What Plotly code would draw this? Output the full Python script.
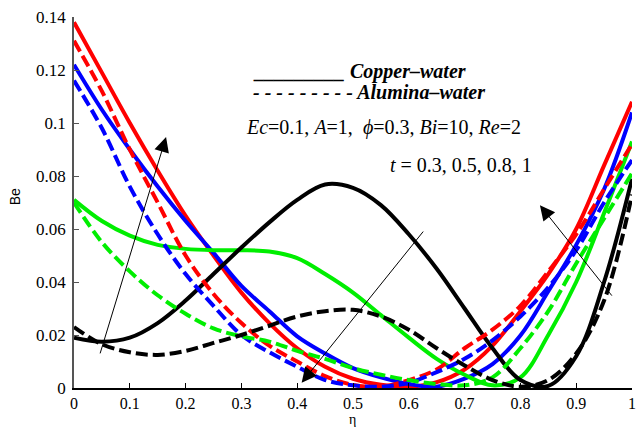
import plotly.graph_objects as go

# eta grid (0 to 1 step 0.05)
eta = [0.0, 0.05, 0.10, 0.15, 0.20, 0.25, 0.30, 0.35, 0.40, 0.45, 0.50,
       0.55, 0.60, 0.65, 0.70, 0.75, 0.80, 0.85, 0.90, 0.95, 1.0]

# Copper-water (solid)
red_cu = [0.138, 0.119, 0.100, 0.082, 0.065, 0.050, 0.036, 0.0245, 0.0150, 0.0080, 0.0035,
          0.0012, 0.0005, 0.0022, 0.0070, 0.0160, 0.0290, 0.0430, 0.0600, 0.0840, 0.1080]
blue_cu = [0.122, 0.105, 0.090, 0.076, 0.063, 0.051, 0.0385, 0.029, 0.0195, 0.013, 0.0075,
           0.0040, 0.0015, 0.0005, 0.0035, 0.0090, 0.0198, 0.0365, 0.0540, 0.0750, 0.1040]
green_cu = [0.071, 0.063, 0.0575, 0.054, 0.0525, 0.052, 0.052, 0.0515, 0.049, 0.043, 0.036,
            0.0275, 0.019, 0.011, 0.005, 0.001, 0.004, 0.020, 0.040, 0.066, 0.093]
black_cu = [0.019, 0.0175, 0.019, 0.0245, 0.033, 0.043, 0.053, 0.0625, 0.071, 0.0768, 0.0755,
            0.069, 0.058, 0.045, 0.030, 0.015, 0.003, 0.0008, 0.012, 0.040, 0.079]

# Alumina-water (dashed)
red_al = [0.131, 0.112, 0.090, 0.070, 0.050, 0.0355, 0.0245, 0.016, 0.010, 0.0045, 0.0012,
          0.0005, 0.0030, 0.0070, 0.0150, 0.0220, 0.0310, 0.0440, 0.0580, 0.0750, 0.0920]
blue_al = [0.116, 0.098, 0.076, 0.058, 0.043, 0.031, 0.020, 0.0135, 0.008, 0.003, 0.001,
           0.0005, 0.0020, 0.0060, 0.0110, 0.0180, 0.0270, 0.0380, 0.0520, 0.0700, 0.0860]
green_al = [0.070, 0.055, 0.044, 0.035, 0.028, 0.0225, 0.0195, 0.0175, 0.014, 0.011, 0.0075,
            0.005, 0.003, 0.0015, 0.001, 0.004, 0.015, 0.029, 0.047, 0.064, 0.081]
black_al = [0.023, 0.0165, 0.0135, 0.0125, 0.014, 0.017, 0.020, 0.0235, 0.027, 0.029, 0.0295,
            0.027, 0.022, 0.015, 0.0085, 0.003, 0.0005, 0.003, 0.013, 0.033, 0.073]

x_ticks = [0, 0.1, 0.2, 0.3, 0.4, 0.5, 0.6, 0.7, 0.8, 0.9, 1]
y_ticks = [0, 0.02, 0.04, 0.06, 0.08, 0.1, 0.12, 0.14]

colors = ["#ff0000", "#0000ff", "#00ee00", "#000000"]
cu_series = [red_cu, blue_cu, green_cu, black_cu]
al_series = [red_al, blue_al, green_al, black_al]

fig = go.Figure()
for c, ys in zip(colors, cu_series):
    fig.add_trace(go.Scatter(x=eta, y=ys, mode="lines", showlegend=False,
                             line=dict(color=c, width=4, shape="spline", smoothing=1.0)))
for c, ys in zip(colors, al_series):
    fig.add_trace(go.Scatter(x=eta, y=ys, mode="lines", showlegend=False,
                             line=dict(color=c, width=4, dash="12px,5px", shape="spline", smoothing=1.0)))

serif = "Liberation Serif, Times New Roman, serif"
ann = []
def txt(x, y, s, size=20, anchor="left"):
    ann.append(dict(x=x, y=y, xref="paper", yref="paper", text=s, showarrow=False,
                    xanchor=anchor, yanchor="middle", font=dict(family=serif, size=size, color="black")))

txt(0.318, 0.852, "<b><i>_________ Copper–water</i></b>")
txt(0.318, 0.798, "<b><i>- - - - - - - - - Alumina–water</i></b>")
txt(0.305, 0.701, "<i>Ec</i>=0.1, <i>A</i>=1,  <i>ϕ</i>=0.3, <i>Bi</i>=10, <i>Re</i>=2")
txt(0.563, 0.601, "<i>t</i> = 0.3, 0.5, 0.8, 1")

# arrows (tip, tail) in data coords
arrows = [((0.165, 0.0947), (0.046, 0.0125)),
          ((0.408, 0.0020), (0.628, 0.0596)),
          ((0.835, 0.0690), (0.966, 0.0343))]
for (tx, ty), (sx, sy) in arrows:
    ann.append(dict(x=tx, y=ty, ax=sx, ay=sy, xref="x", yref="y", axref="x", ayref="y",
                    text="", showarrow=True, arrowhead=2, arrowsize=3, arrowwidth=1,
                    arrowcolor="black"))

# axis titles
ann.append(dict(x=-0.105, y=0.515, xref="paper", yref="paper", text="Be", showarrow=False,
                xanchor="center", yanchor="middle", textangle=-90,
                font=dict(family="Liberation Sans, Arial, sans-serif", size=14, color="black")))
ann.append(dict(x=0.499, y=-0.084, xref="paper", yref="paper", text="η", showarrow=False,
                xanchor="center", yanchor="middle", borderpad=0,
                font=dict(family=serif, size=14, color="black")))

fig.update_layout(
    width=638, height=428,
    margin=dict(l=74, r=2, t=17, b=40),
    plot_bgcolor="white", paper_bgcolor="white",
    annotations=ann,
    xaxis=dict(range=[0, 1], tickvals=x_ticks, ticktext=[str(v) for v in x_ticks], ticks="inside", ticklen=5,
               tickcolor="black", showline=True, linecolor="black", linewidth=1.5,
               showgrid=False, zeroline=False, ticklabeloverflow="allow",
               tickfont=dict(family=serif, size=16, color="black")),
    yaxis=dict(range=[0, 0.14], tickvals=y_ticks, ticktext=[("%g" % v) for v in y_ticks], ticks="inside", ticklen=5,
               tickcolor="#555555", showline=True, linecolor="#555555", linewidth=1.5,
               showgrid=False, zeroline=False, ticklabelstandoff=3,
               tickfont=dict(family=serif, size=17, color="black")),
)

fig.write_html("out.html")
